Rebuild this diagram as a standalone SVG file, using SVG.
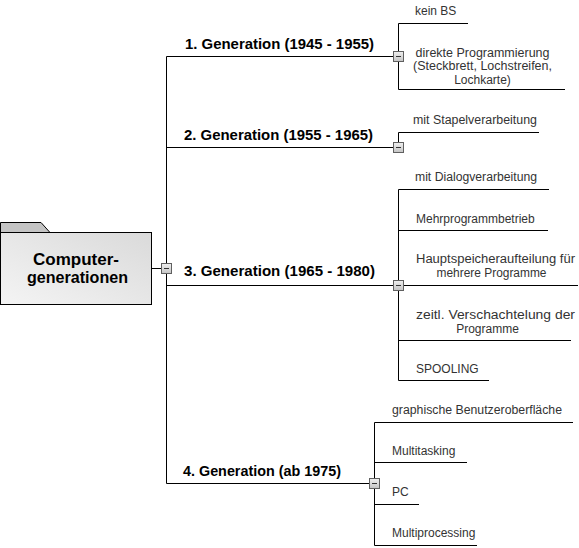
<svg xmlns="http://www.w3.org/2000/svg" width="579" height="548" viewBox="0 0 579 548">
<defs>
<linearGradient id="rootFill" x1="0" y1="1" x2="1" y2="0">
<stop offset="0" stop-color="#f4f4f4"/>
<stop offset="1" stop-color="#dadada"/>
</linearGradient>
<linearGradient id="btnFill" x1="0" y1="0" x2="0" y2="1">
<stop offset="0" stop-color="#f0f0f0"/>
<stop offset="1" stop-color="#c4c4c4"/>
</linearGradient>
<g id="btn">
<rect x="-5" y="-5" width="10" height="10" fill="url(#btnFill)" stroke="#606060" stroke-width="1"/>
<line x1="-2.5" y1="0" x2="2.5" y2="0" stroke="#333" stroke-width="1"/>
</g>
</defs>
<style>
.ln{stroke:#000;stroke-width:1;fill:none}
.gen{font-family:"Liberation Sans",Arial,sans-serif;font-weight:bold;font-size:14px;fill:#000}
.sub{font-family:"Liberation Sans",Arial,sans-serif;font-size:12px;fill:#333}
.root{font-family:"Liberation Sans",Arial,sans-serif;font-weight:bold;font-size:17px;fill:#000;text-anchor:middle}
.c{text-anchor:middle}
</style>
<rect width="579" height="548" fill="#fff"/>

<g id="connectors">
<line class="ln" x1="151.5" y1="268.5" x2="161.5" y2="268.5"/>
<line class="ln" x1="166.5" y1="56.5" x2="166.5" y2="483.5"/>
<line class="ln" x1="166.5" y1="56.5" x2="393.5" y2="56.5"/>
<line class="ln" x1="166.5" y1="147.5" x2="393.5" y2="147.5"/>
<line class="ln" x1="166.5" y1="285.5" x2="578" y2="285.5"/>
<line class="ln" x1="166.5" y1="483.5" x2="369.5" y2="483.5"/>
<!-- branch 1 -->
<line class="ln" x1="398.5" y1="23.5" x2="398.5" y2="89.5"/>
<line class="ln" x1="398.5" y1="23.5" x2="468" y2="23.5"/>
<line class="ln" x1="398.5" y1="89.5" x2="565" y2="89.5"/>
<!-- branch 2 -->
<line class="ln" x1="398.5" y1="132.5" x2="398.5" y2="142.5"/>
<line class="ln" x1="398.5" y1="132.5" x2="539" y2="132.5"/>
<!-- branch 3 -->
<line class="ln" x1="398.5" y1="189.5" x2="398.5" y2="380.5"/>
<line class="ln" x1="398.5" y1="189.5" x2="549" y2="189.5"/>
<line class="ln" x1="398.5" y1="230.5" x2="548" y2="230.5"/>
<line class="ln" x1="398.5" y1="340.5" x2="571" y2="340.5"/>
<line class="ln" x1="398.5" y1="380.5" x2="489" y2="380.5"/>
<!-- branch 4 -->
<line class="ln" x1="374.5" y1="422.5" x2="374.5" y2="545.5"/>
<line class="ln" x1="374.5" y1="422.5" x2="573" y2="422.5"/>
<line class="ln" x1="374.5" y1="462.5" x2="467" y2="462.5"/>
<line class="ln" x1="374.5" y1="504.5" x2="419" y2="504.5"/>
<line class="ln" x1="374.5" y1="545.5" x2="477" y2="545.5"/>
</g>

<g id="root">
<path d="M0.5 232.5 V222.5 H41 L50 232.5 Z" fill="#c4c4c4" stroke="#000" stroke-width="1"/>
<rect x="0.5" y="232.5" width="151" height="72" fill="url(#rootFill)" stroke="#000" stroke-width="1"/>
<text class="root" x="76" y="265">Computer-</text>
<text class="root" x="77.5" y="283" textLength="101" lengthAdjust="spacingAndGlyphs">generationen</text>
<use href="#btn" x="166.5" y="268.5"/>
</g>

<g id="gen1">
<text class="gen" x="185" y="48.5" textLength="189" lengthAdjust="spacingAndGlyphs">1. Generation (1945 - 1955)</text>
<use href="#btn" x="398.5" y="56.5"/>
</g>
<g id="gen2">
<text class="gen" x="184" y="139.5" textLength="189" lengthAdjust="spacingAndGlyphs">2. Generation (1955 - 1965)</text>
<use href="#btn" x="398.5" y="147.5"/>
</g>
<g id="gen3">
<text class="gen" x="184" y="276" textLength="191" lengthAdjust="spacingAndGlyphs">3. Generation (1965 - 1980)</text>
<use href="#btn" x="398.5" y="285.5"/>
</g>
<g id="gen4">
<text class="gen" x="183" y="476" textLength="158" lengthAdjust="spacingAndGlyphs">4. Generation (ab 1975)</text>
<use href="#btn" x="374.5" y="483.5"/>
</g>

<g id="kein-bs"><text class="sub" x="415" y="15">kein BS</text></g>
<g id="direkte">
<text class="sub c" x="482.5" y="56.5" textLength="134" lengthAdjust="spacingAndGlyphs">direkte Programmierung</text>
<text class="sub c" x="482.5" y="70" textLength="139" lengthAdjust="spacingAndGlyphs">(Steckbrett, Lochstreifen,</text>
<text class="sub c" x="482.5" y="83.5">Lochkarte)</text>
</g>
<g id="stapel"><text class="sub" x="413" y="124" textLength="124" lengthAdjust="spacingAndGlyphs">mit Stapelverarbeitung</text></g>
<g id="dialog"><text class="sub" x="415" y="180.5" textLength="122" lengthAdjust="spacingAndGlyphs">mit Dialogverarbeitung</text></g>
<g id="mehrprog"><text class="sub" x="416" y="222.5">Mehrprogrammbetrieb</text></g>
<g id="hauptspeicher">
<text class="sub c" x="495.5" y="262.5" textLength="159" lengthAdjust="spacingAndGlyphs">Hauptspeicheraufteilung für</text>
<text class="sub c" x="491.5" y="276.5" textLength="110" lengthAdjust="spacingAndGlyphs">mehrere Programme</text>
</g>
<g id="zeitl">
<text class="sub c" x="495.5" y="319" textLength="159" lengthAdjust="spacingAndGlyphs">zeitl. Verschachtelung der</text>
<text class="sub c" x="487.5" y="332.5">Programme</text>
</g>
<g id="spooling"><text class="sub" x="416" y="373">SPOOLING</text></g>
<g id="gui"><text class="sub" x="392" y="414" textLength="170" lengthAdjust="spacingAndGlyphs">graphische Benutzeroberfläche</text></g>
<g id="multitasking"><text class="sub" x="392" y="454.5">Multitasking</text></g>
<g id="pc"><text class="sub" x="392" y="495.5">PC</text></g>
<g id="multiprocessing"><text class="sub" x="392" y="536.5">Multiprocessing</text></g>
</svg>
